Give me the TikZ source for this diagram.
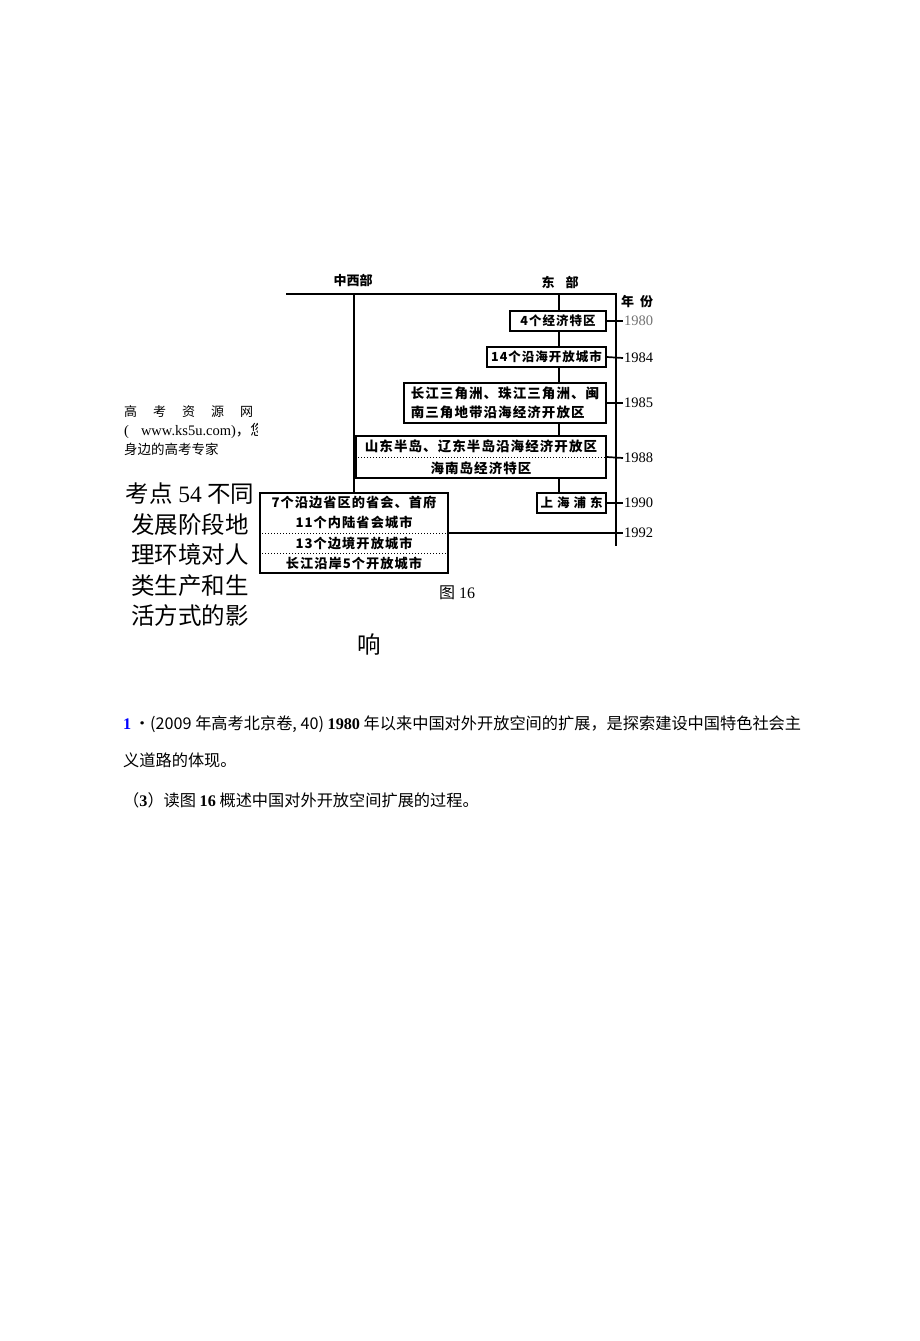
\documentclass[tikz,border=0pt]{standalone}
\usepackage{fontspec}
\setmainfont{Liberation Serif}
\newfontfamily\cjk{Noto Sans CJK SC}
\newfontfamily\boxcjk[LetterSpace=8]{Noto Sans CJK SC}
\usetikzlibrary{positioning}

\begin{document}
\begin{tikzpicture}[x=1pt, y=-1pt,
    line/.style={line width=1.7pt},
    divider/.style={line width=1pt, dotted},
    box/.style={draw, line width=1.7pt, inner sep=0pt, minimum height=20pt,
        font=\boxcjk\bfseries\fontsize{12.5}{20}\selectfont},
    year/.style={anchor=west, inner sep=1pt, font=\fontsize{14.5}{14.5}\selectfont},
    head/.style={inner sep=0pt, font=\cjk\bfseries\fontsize{13}{13}\selectfont},
    plain/.style={anchor=west, inner sep=0pt}]
    \useasboundingbox (0,0) rectangle (920,1341);

    % Draw the frame of the timeline
    \coordinate (ltop) at (286,294);
    \coordinate (rtop) at (616,294);
    \coordinate (rbot) at (616,546);
    \coordinate (west) at (354,294);
    \coordinate (east) at (559,294);
    \draw[line] (ltop) -- (rtop) -- (rbot);
    \node[head] (zxb) at (353,280) {中西部};
    \node[head] (db) at (560,282) {东\hspace{11pt}部};
    \node[head] (nf) at (637,302) {年\hspace{6pt}份};

    % Boxes of the eastern part
    \node[box, minimum width=96pt] (tequ) at (558,321) {4个经济特区};
    \node[box, minimum width=119pt] (yanhai) at (546.5,357) {14个沿海开放城市};
    \node[box, minimum width=202pt, minimum height=40pt, align=left,
        font=\boxcjk\bfseries\fontsize{13.5}{19}\selectfont] (sanjiao) at (505,403)
        {长江三角洲、珠江三角洲、闽\\南三角地带沿海经济开放区};
    \node[box, minimum width=250pt, minimum height=42pt, align=center,
        font=\boxcjk\bfseries\fontsize{13.5}{22}\selectfont] (bandao) at (481,457)
        {山东半岛、辽东半岛沿海经济开放区\\海南岛经济特区};
    \node[box, minimum width=69pt] (pudong) at (571.5,503) {上\hspace{4pt}海\hspace{4pt}浦\hspace{4pt}东};
    \draw[divider] (bandao.west) -- (bandao.east);

    % Box of the central and western part
    \node[box, minimum width=188pt, minimum height=80pt, align=center,
        font=\boxcjk\bfseries\fontsize{13.2}{20.3}\selectfont] (neilu) at (354,533)
        {7个沿边省区的省会、首府\\11个内陆省会城市\\13个边境开放城市\\长江沿岸5个开放城市};
    \draw[divider] (neilu.west) -- (neilu.east);
    \draw[divider] ([yshift=-20pt]neilu.west) -- ([yshift=-20pt]neilu.east);

    % Vertical connectors
    \draw[line] (east) -- (east |- tequ.north);
    \draw[line] (tequ.south -| east) -- (east |- yanhai.north);
    \draw[line] (yanhai.south -| east) -- (east |- sanjiao.north);
    \draw[line] (sanjiao.south -| east) -- (east |- bandao.north);
    \draw[line] (bandao.south -| east) -- (east |- pudong.north);
    \draw[line] (west) -- (west |- neilu.north);

    % Years on the right
    \node[year, text=black!55] (y1980) at (623,321) {1980};
    \node[year] (y1984) at (623,358) {1984};
    \node[year] (y1985) at (623,403) {1985};
    \node[year] (y1988) at (623,458) {1988};
    \node[year] (y1990) at (623,503) {1990};
    \node[year] (y1992) at (623,533) {1992};
    \draw[line] (tequ.east) -- (y1980.west);
    \draw[line] (yanhai.east) -- (y1984.west);
    \draw[line] (sanjiao.east) -- (y1985.west);
    \draw[line] (bandao.east) -- (y1988.west);
    \draw[line] (pudong.east) -- (y1990.west);
    \draw[line] (neilu.east) -- (y1992.west);

    % Caption
    \node[inner sep=0pt, font=\fontsize{16}{16}\selectfont] (tu) at (457,593) {{\cjk 图} 16};

    % Text on the left
    \node[plain, font=\cjk\fontsize{13}{13}\selectfont] (src) at (124,412)
        {高\hspace{16pt}考\hspace{16pt}资\hspace{16pt}源\hspace{16pt}网};
    \begin{scope}
        \clip (118,420) rectangle (257,442);
        \node[plain, font=\fontsize{14.5}{14.5}\selectfont] (url) at (124,431)
            {(\hspace{12pt}www.ks5u.com){\cjk ，您}};
    \end{scope}
    \node[plain, font=\cjk\fontsize{13.5}{13.5}\selectfont] (zj) at (124,449) {身边的高考专家};
    \node[inner sep=0pt, align=center, font=\cjk\fontsize{23.5}{30.5}\selectfont] (kd) at (190,555)
        {考点 {\rmfamily 54} 不同\\发展阶段地\\理环境对人\\类生产和生\\活方式的影};
    \node[inner sep=0pt, font=\cjk\fontsize{23.5}{23.5}\selectfont] (xiang) at (369,645) {响};

    % Question text
    \node[plain, font=\cjk\fontsize{16.2}{16.2}\selectfont] (q1) at (123,724)
        {{\rmfamily\bfseries\color{blue}1}\,·(2009 年高考北京卷, 40) {\rmfamily\bfseries 1980} 年以来中国对外开放空间的扩展，是探索建设中国特色社会主};
    \node[plain, font=\cjk\fontsize{16.2}{16.2}\selectfont] (q2) at (123,760) {义道路的体现。};
    \node[plain, font=\cjk\fontsize{16.2}{16.2}\selectfont] (q3) at (123,800)
        {（{\rmfamily\bfseries 3}）读图 {\rmfamily\bfseries 16} 概述中国对外开放空间扩展的过程。};
\end{tikzpicture}
\end{document}
